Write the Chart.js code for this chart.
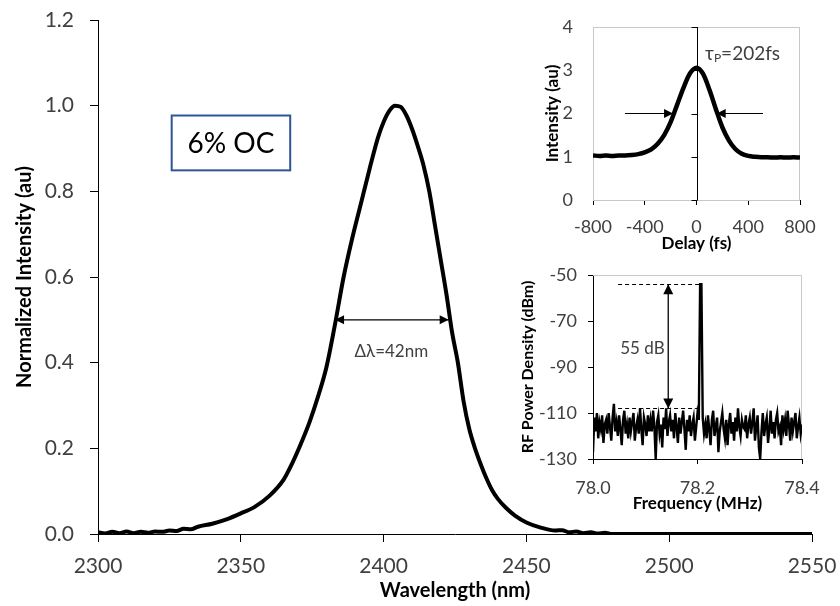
<!DOCTYPE html>
<html>
<head>
<meta charset="utf-8">
<script src="https://cdn.jsdelivr.net/npm/chart.js@4/dist/chart.umd.min.js"></script>
<style>
html, body { margin: 0; padding: 0; background: #fff; }
#wrap { position: relative; width: 840px; height: 606px; }
canvas { position: absolute; }
</style>
</head>
<body>
<div id="wrap">
  <canvas id="mainChart" width="840" height="606" style="left:0;top:0"></canvas>
  <canvas id="acChart" width="320" height="260" style="left:520px;top:0"></canvas>
  <canvas id="rfChart" width="335" height="258" style="left:505px;top:262px"></canvas>
</div>
<script>
// ---- main spectrum ----
const wavelength = [
  2300, 2302.5, 2305, 2307.5, 2310, 2312.5, 2315, 2317.5, 2320, 2322.5, 2325, 2327.5, 2330, 2332.5,
  2335, 2340, 2345, 2350, 2355, 2360, 2365, 2368, 2371, 2374, 2377, 2380, 2383, 2386, 2389, 2392,
  2395, 2398, 2400, 2402, 2404, 2406, 2408, 2410, 2412, 2414, 2416, 2418, 2420, 2422, 2424, 2426,
  2428, 2430, 2432, 2434, 2436, 2438, 2440, 2443, 2446, 2450, 2455, 2460, 2462.5, 2465, 2467.5,
  2470, 2472.5, 2475, 2477.5, 2480, 2500, 2550
];
const intensity = [
  0.004, 0.001, 0.005, 0.002, 0.006, 0.002, 0.005, 0.003, 0.006, 0.005, 0.008, 0.007, 0.012, 0.011,
  0.017, 0.024, 0.034, 0.048, 0.064, 0.089, 0.127, 0.165, 0.21, 0.26, 0.32, 0.39, 0.49, 0.60, 0.69, 0.77,
  0.85, 0.925, 0.962, 0.988, 1.0, 0.997, 0.977, 0.945, 0.905, 0.86, 0.80, 0.72, 0.64, 0.56, 0.47, 0.40,
  0.31, 0.245, 0.20, 0.163, 0.13, 0.102, 0.082, 0.06, 0.043, 0.027, 0.015, 0.008, 0.009, 0.004, 0.006,
  0.002, 0.004, 0.001, 0.003, 0, 0, 0
];
const wlTicks = [2300, 2350, 2400, 2450, 2500, 2550];
const intTicks = [0, 0.2, 0.4, 0.6, 0.8, 1.0, 1.2];

// ---- autocorrelation inset ----
const acDelay = [
  -800, -750, -700, -650, -600, -550, -500, -450, -400, -350, -300, -250, -200, -150, -100, -50, 0,
  50, 100, 150, 200, 250, 300, 350, 400, 450, 500, 550, 600, 650, 700, 750, 800
];
const acIntensity = [
  1.03, 1.02, 1.03, 1.02, 1.03, 1.03, 1.04, 1.06, 1.10, 1.17, 1.30, 1.50, 1.80, 2.20, 2.60, 2.93, 3.06,
  2.92, 2.55, 2.10, 1.68, 1.38, 1.18, 1.07, 1.02, 1.00, 0.99, 0.99, 0.98, 0.99, 0.98, 0.99, 0.98
];
const acXTicks = [-800, -400, 0, 400, 800];
const acYTicks = [0, 1, 2, 3, 4];

// ---- RF spectrum inset (78.0 .. 78.4 MHz, 0.0025 MHz step) ----
const rfStart = 78.0, rfStep = 0.0025;
const rfPower = [
  -127, -112, -118, -110, -121, -114, -117, -111, -123, -115, -113, -119, -110, -116, -122, -112, -106, -118, -114, -120,
  -111, -117, -124, -113, -109, -119, -115, -121, -112, -118, -114, -110, -122, -116, -113, -119, -108, -117, -124, -112,
  -115, -120, -111, -118, -113, -118, -109, -116, -130, -114, -111, -119, -115, -125, -112, -117, -108, -120, -114, -111,
  -118, -113, -121, -110, -116, -123, -112, -119, -114, -109, -117, -126, -113, -118, -111, -120, -115, -112, -122, -116,
  -110, -113, -54, -54, -112, -119, -115, -121, -111, -117, -124, -113, -109, -120, -116, -112, -127, -118, -114, -110,
  -117, -121, -113, -124, -115, -110, -119, -114, -122, -112, -118, -108, -116, -120, -113, -116, -117, -111, -121, -115,
  -112, -119, -114, -108, -122, -116, -111, -125, -130, -118, -110, -120, -115, -112, -123, -117, -109, -119, -114, -121,
  -113, -110, -118, -116, -124, -111, -117, -113, -120, -109, -115, -122, -112, -118, -114, -110, -121, -116, -112, -119,
  -115
];
const rfXTicks = [78.0, 78.2, 78.4];
const rfYTicks = [-130, -110, -90, -70, -50];

const FONT = 'Lato, "Open Sans", sans-serif';
const TICK_COLOR = '#404040';
Chart.defaults.font.family = FONT;

function setTicks(list) {
  return (scale) => { scale.ticks = list.map(v => ({ value: v })); };
}
// fixed axis box, no extra label padding so the layout padding sets the plot area
function fitY(w) {
  return (s) => { s.width = w; s.paddingTop = 0; s.paddingBottom = 0; };
}
function fitX(h) {
  return (s) => { s.height = h; s.paddingLeft = 0; s.paddingRight = 0; };
}

function arrow(ctx, x1, y1, x2, y2, both, len, half) {
  const ang = Math.atan2(y2 - y1, x2 - x1);
  ctx.beginPath();
  ctx.moveTo(x1, y1);
  ctx.lineTo(x2, y2);
  ctx.stroke();
  const head = (x, y, a) => {
    ctx.beginPath();
    ctx.moveTo(x, y);
    ctx.lineTo(x - len * Math.cos(a) + half * Math.sin(a), y - len * Math.sin(a) - half * Math.cos(a));
    ctx.lineTo(x - len * Math.cos(a) - half * Math.sin(a), y - len * Math.sin(a) + half * Math.cos(a));
    ctx.closePath();
    ctx.fill();
  };
  head(x2, y2, ang);
  if (both) head(x1, y1, ang + Math.PI);
}

// main chart annotations
const fwhm = { from: 2383, to: 2422.8, level: 0.5, label: 'Δλ=42nm', labelX: 2402.7, labelY: 0.427 };
const ocBox = { x0: 2325.8, x1: 2367.3, y0: 0.977, y1: 0.849, label: '6% OC' };

const mainNotes = {
  id: 'mainNotes',
  afterDatasetsDraw(chart) {
    const { ctx, scales: { x, y } } = chart;
    ctx.save();
    ctx.strokeStyle = '#000';
    ctx.fillStyle = '#000';
    ctx.lineWidth = 1.3;
    arrow(ctx, x.getPixelForValue(fwhm.from), y.getPixelForValue(fwhm.level),
      x.getPixelForValue(fwhm.to), y.getPixelForValue(fwhm.level), true, 9, 4.5);
    ctx.fillStyle = TICK_COLOR;
    ctx.font = '17px ' + FONT;
    ctx.textAlign = 'center';
    ctx.textBaseline = 'middle';
    ctx.fillText(fwhm.label, x.getPixelForValue(fwhm.labelX), y.getPixelForValue(fwhm.labelY));

    const bx0 = x.getPixelForValue(ocBox.x0), bx1 = x.getPixelForValue(ocBox.x1);
    const by0 = y.getPixelForValue(ocBox.y0), by1 = y.getPixelForValue(ocBox.y1);
    ctx.fillStyle = '#fff';
    ctx.fillRect(bx0, by0, bx1 - bx0, by1 - by0);
    ctx.strokeStyle = '#2F5597';
    ctx.lineWidth = 2;
    ctx.strokeRect(bx0, by0, bx1 - bx0, by1 - by0);
    ctx.fillStyle = '#000';
    ctx.font = '28px ' + FONT;
    ctx.fillText(ocBox.label, (bx0 + bx1) / 2, (by0 + by1) / 2 + 1);
    ctx.restore();
  }
};

new Chart(document.getElementById('mainChart'), {
  type: 'line',
  data: {
    datasets: [{
      data: wavelength.map((w, i) => ({ x: w, y: intensity[i] })),
      borderColor: '#000',
      borderWidth: 4,
      pointRadius: 0,
      cubicInterpolationMode: 'monotone'
    }]
  },
  options: {
    responsive: false,
    animation: false,
    layout: { padding: { left: 0, right: 28, top: 20, bottom: 0 } },
    plugins: { legend: { display: false }, tooltip: { enabled: false } },
    scales: {
      x: {
        type: 'linear', min: 2300, max: 2550,
        afterBuildTicks: setTicks(wlTicks),
        afterFit: fitX(72),
        grid: { drawOnChartArea: false, color: '#000', tickLength: 8 },
        border: { color: '#000', width: 1 },
        ticks: { color: TICK_COLOR, font: { size: 21 }, padding: 12, maxRotation: 0, callback: v => String(v) },
        title: { display: true, text: 'Wavelength (nm)', color: '#000', font: { size: 20, weight: 'bold' }, padding: { top: 0, bottom: 3 } }
      },
      y: {
        type: 'linear', min: 0, max: 1.2,
        afterBuildTicks: setTicks(intTicks),
        afterFit: fitY(98),
        grid: { drawOnChartArea: false, color: '#000', tickLength: 8 },
        border: { color: '#000', width: 1 },
        ticks: { color: TICK_COLOR, font: { size: 21 }, padding: 16, callback: v => v.toFixed(1) },
        title: { display: true, text: 'Normalized Intensity (au)', color: '#000', font: { size: 20, weight: 'bold' }, padding: { top: 13, bottom: 0 } }
      }
    }
  },
  plugins: [mainNotes]
});

// autocorrelation inset annotations
const acArrowLeft = { from: -553, to: -181, level: 2 };
const acArrowRight = { from: 514, to: 156, level: 2 };
const acPulse = { x: 66, y: 3.4 };

const acNotes = {
  id: 'acNotes',
  beforeDatasetsDraw(chart) {
    const { ctx, chartArea: a } = chart;
    ctx.save();
    ctx.strokeStyle = '#c8c8c8';
    ctx.lineWidth = 1;
    ctx.strokeRect(a.left + 0.5, a.top + 0.5, a.right - a.left - 1, a.bottom - a.top);
    ctx.restore();
  },
  afterDatasetsDraw(chart) {
    const { ctx, scales: { x, y } } = chart;
    ctx.save();
    ctx.strokeStyle = '#000';
    ctx.fillStyle = '#000';
    ctx.lineWidth = 1;
    const x0 = Math.round(x.getPixelForValue(0)) + 0.5;
    ctx.beginPath();
    ctx.moveTo(x0, y.getPixelForValue(0));
    ctx.lineTo(x0, y.getPixelForValue(4));
    acYTicks.forEach(v => {
      const py = Math.round(y.getPixelForValue(v)) + 0.5;
      ctx.moveTo(x0 - 6, py);
      ctx.lineTo(x0, py);
    });
    ctx.stroke();
    ctx.lineWidth = 1.2;
    arrow(ctx, x.getPixelForValue(acArrowLeft.from), y.getPixelForValue(acArrowLeft.level),
      x.getPixelForValue(acArrowLeft.to), y.getPixelForValue(acArrowLeft.level), false, 9, 4.5);
    arrow(ctx, x.getPixelForValue(acArrowRight.from), y.getPixelForValue(acArrowRight.level),
      x.getPixelForValue(acArrowRight.to), y.getPixelForValue(acArrowRight.level), false, 9, 4.5);

    let px = x.getPixelForValue(acPulse.x);
    const py = y.getPixelForValue(acPulse.y);
    ctx.fillStyle = TICK_COLOR;
    ctx.textAlign = 'left';
    ctx.textBaseline = 'alphabetic';
    ctx.font = '19px ' + FONT;
    ctx.fillText('τ', px, py + 7);
    px += ctx.measureText('τ').width;
    ctx.font = '12px ' + FONT;
    ctx.fillText('P', px, py + 9);
    px += ctx.measureText('P').width;
    ctx.font = '19px ' + FONT;
    ctx.fillText('=202fs', px, py + 7);
    ctx.restore();
  }
};

new Chart(document.getElementById('acChart'), {
  type: 'line',
  data: {
    datasets: [{
      data: acDelay.map((d, i) => ({ x: d, y: acIntensity[i] })),
      borderColor: '#000',
      borderWidth: 4.5,
      pointRadius: 0,
      cubicInterpolationMode: 'monotone'
    }]
  },
  options: {
    responsive: false,
    animation: false,
    layout: { padding: { left: 0, right: 40, top: 27, bottom: 0 } },
    plugins: { legend: { display: false }, tooltip: { enabled: false } },
    scales: {
      x: {
        type: 'linear', min: -800, max: 800,
        afterBuildTicks: setTicks(acXTicks),
        afterFit: fitX(60),
        grid: { drawOnChartArea: false, color: '#000', tickLength: 5 },
        border: { color: '#000', width: 1 },
        ticks: { color: TICK_COLOR, font: { size: 18 }, padding: 11, maxRotation: 0, callback: v => String(v) },
        title: { display: true, text: 'Delay (fs)', color: '#000', font: { size: 17, weight: 'bold' }, padding: { top: 0, bottom: 6 } }
      },
      y: {
        type: 'linear', min: 0, max: 4,
        afterBuildTicks: setTicks(acYTicks),
        afterFit: fitY(73),
        grid: { drawOnChartArea: false, drawTicks: false },
        border: { display: false },
        ticks: { color: TICK_COLOR, font: { size: 18 }, padding: 20, callback: v => String(v) },
        title: { display: true, text: 'Intensity (au)', color: '#000', font: { size: 17, weight: 'bold' }, padding: { top: 22, bottom: 0 } }
      }
    }
  },
  plugins: [acNotes]
});

// RF inset annotations
const rfTop = -54, rfFloor = -108, rfDashFrom = 78.048, rfDashTo = 78.208, rfArrowX = 78.144;
const rfLabel = { x: 78.052, y: -82, text: '55 dB' };

const rfNotes = {
  id: 'rfNotes',
  beforeDatasetsDraw(chart) {
    const { ctx, chartArea: a } = chart;
    ctx.save();
    ctx.strokeStyle = '#c8c8c8';
    ctx.lineWidth = 1;
    ctx.beginPath();
    ctx.moveTo(a.left, a.top + 0.5);
    ctx.lineTo(a.right - 0.5, a.top + 0.5);
    ctx.lineTo(a.right - 0.5, a.bottom);
    ctx.stroke();
    ctx.restore();
  },
  afterDatasetsDraw(chart) {
    const { ctx, scales: { x, y } } = chart;
    ctx.save();
    ctx.strokeStyle = '#000';
    ctx.fillStyle = '#000';
    ctx.lineWidth = 1;
    ctx.setLineDash([4, 3]);
    [rfTop, rfFloor].forEach(v => {
      const py = Math.round(y.getPixelForValue(v)) + 0.5;
      ctx.beginPath();
      ctx.moveTo(x.getPixelForValue(rfDashFrom), py);
      ctx.lineTo(x.getPixelForValue(rfDashTo), py);
      ctx.stroke();
    });
    ctx.setLineDash([]);
    ctx.lineWidth = 1.3;
    const ax = x.getPixelForValue(rfArrowX);
    arrow(ctx, ax, y.getPixelForValue(rfFloor), ax, y.getPixelForValue(rfTop), true, 10, 5);
    ctx.fillStyle = TICK_COLOR;
    ctx.font = '17px ' + FONT;
    ctx.textAlign = 'left';
    ctx.textBaseline = 'middle';
    ctx.fillText(rfLabel.text, x.getPixelForValue(rfLabel.x), y.getPixelForValue(rfLabel.y));
    ctx.restore();
  }
};

new Chart(document.getElementById('rfChart'), {
  type: 'line',
  data: {
    datasets: [{
      data: rfPower.map((p, i) => ({ x: rfStart + i * rfStep, y: p })),
      borderColor: '#000',
      borderWidth: 2.4,
      pointRadius: 0
    }]
  },
  options: {
    responsive: false,
    animation: false,
    layout: { padding: { left: 0, right: 38, top: 13, bottom: 0 } },
    plugins: { legend: { display: false }, tooltip: { enabled: false } },
    scales: {
      x: {
        type: 'linear', min: 78.0, max: 78.4,
        afterBuildTicks: setTicks(rfXTicks),
        afterFit: fitX(61),
        grid: { drawOnChartArea: false, color: '#000', tickLength: 5 },
        border: { color: '#000', width: 1 },
        ticks: { color: TICK_COLOR, font: { size: 18 }, padding: 13, maxRotation: 0, callback: v => v.toFixed(1) },
        title: { display: true, text: 'Frequency (MHz)', color: '#000', font: { size: 17, weight: 'bold' }, padding: { top: 0, bottom: 6 } }
      },
      y: {
        type: 'linear', min: -130, max: -50,
        afterBuildTicks: setTicks(rfYTicks),
        afterFit: fitY(88),
        grid: { drawOnChartArea: false, color: '#000', tickLength: 5 },
        border: { color: '#000', width: 1 },
        ticks: { color: TICK_COLOR, font: { size: 18 }, padding: 11, callback: v => String(v) },
        title: { display: true, text: 'RF Power Density (dBm)', color: '#000', font: { size: 16, weight: 'bold' }, padding: { top: 13, bottom: 0 } }
      }
    }
  },
  plugins: [rfNotes]
});
</script>
</body>
</html>
